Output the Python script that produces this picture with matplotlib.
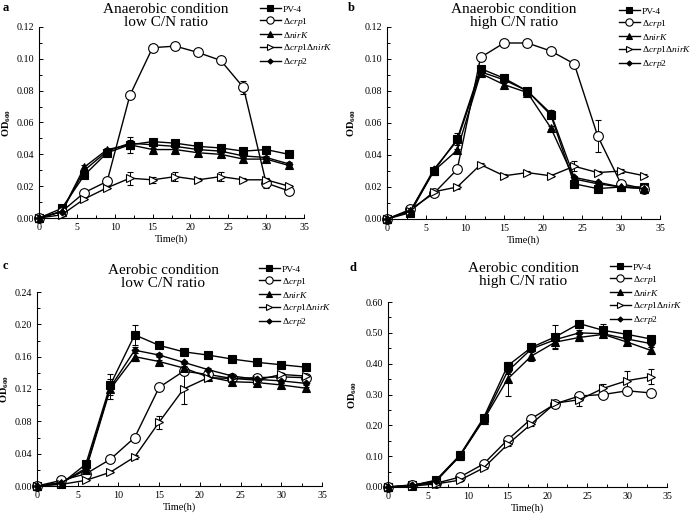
import matplotlib.pyplot as plt
from matplotlib.ticker import MultipleLocator, FormatStrFormatter
from matplotlib.lines import Line2D

plt.rcParams['font.family'] = ['Liberation Serif', 'DejaVu Serif']
plt.rcParams['mathtext.fontset'] = 'custom'
plt.rcParams['mathtext.rm'] = 'Liberation Serif'
plt.rcParams['mathtext.it'] = 'Liberation Serif:italic'
plt.rcParams['mathtext.bf'] = 'Liberation Serif:bold'

time_h = [0, 3, 6, 9, 12, 15, 18, 21, 24, 27, 30, 33]
strains = ['PV-4', r'$\Delta$$\it{crp1}$', r'$\Delta$$\it{nirK}$',
           r'$\Delta$$\it{crp1}$$\Delta$$\it{nirK}$', r'$\Delta$$\it{crp2}$']

# panel a: anaerobic, low C/N
a_pv4 = [0, 0.006, 0.027, 0.041, 0.046, 0.048, 0.047, 0.045, 0.044, 0.042, 0.043, 0.040]
a_crp1 = [0, 0.004, 0.016, 0.023, 0.077, 0.107, 0.108, 0.104, 0.099, 0.082, 0.022, 0.017]
a_nirk = [0, 0.004, 0.032, 0.043, 0.046, 0.043, 0.043, 0.041, 0.040, 0.037, 0.037, 0.033]
a_dbl = [0, 0.002, 0.012, 0.019, 0.025, 0.024, 0.026, 0.024, 0.026, 0.024, 0.024, 0.020]
a_crp2 = [0, 0.004, 0.030, 0.042, 0.047, 0.046, 0.045, 0.043, 0.042, 0.039, 0.038, 0.034]
a_err = [
    [0, 0.001, 0.001, 0.001, 0.001, 0.001, 0.001, 0.001, 0.001, 0.001, 0.001, 0.001],
    [0, 0.001, 0.001, 0.001, 0.001, 0.001, 0.001, 0.001, 0.001, 0.004, 0.003, 0.001],
    [0, 0.001, 0.001, 0.001, 0.005, 0.001, 0.001, 0.001, 0.001, 0.001, 0.001, 0.001],
    [0, 0.001, 0.001, 0.001, 0.004, 0.002, 0.003, 0.001, 0.003, 0.001, 0.001, 0.001],
    [0, 0.001, 0.001, 0.001, 0.002, 0.001, 0.001, 0.001, 0.001, 0.001, 0.001, 0.001],
]

# panel b: anaerobic, high C/N
b_pv4 = [0, 0.004, 0.030, 0.050, 0.094, 0.088, 0.080, 0.065, 0.022, 0.019, 0.020, 0.020]
b_crp1 = [0, 0.006, 0.016, 0.031, 0.101, 0.110, 0.110, 0.105, 0.097, 0.052, 0.022, 0.019]
b_nirk = [0, 0.005, 0.030, 0.043, 0.091, 0.084, 0.079, 0.057, 0.025, 0.022, 0.020, 0.019]
b_dbl = [0, 0.005, 0.017, 0.020, 0.034, 0.027, 0.029, 0.027, 0.033, 0.029, 0.030, 0.027]
b_crp2 = [0, 0.005, 0.031, 0.049, 0.092, 0.087, 0.080, 0.066, 0.026, 0.023, 0.020, 0.019]
b_err = [
    [0, 0.001, 0.001, 0.004, 0.001, 0.001, 0.001, 0.001, 0.001, 0.001, 0.001, 0.001],
    [0, 0.001, 0.001, 0.001, 0.001, 0.001, 0.001, 0.001, 0.001, 0.010, 0.001, 0.001],
    [0, 0.001, 0.001, 0.001, 0.001, 0.001, 0.001, 0.001, 0.001, 0.001, 0.001, 0.001],
    [0, 0.001, 0.001, 0.001, 0.001, 0.001, 0.001, 0.001, 0.003, 0.001, 0.001, 0.001],
    [0, 0.001, 0.001, 0.001, 0.001, 0.001, 0.001, 0.002, 0.001, 0.001, 0.001, 0.001],
]

# panel c: aerobic, low C/N
c_pv4 = [0, 0.003, 0.027, 0.125, 0.187, 0.174, 0.166, 0.162, 0.157, 0.153, 0.150, 0.147]
c_crp1 = [0, 0.007, 0.015, 0.033, 0.060, 0.122, 0.142, 0.138, 0.133, 0.134, 0.135, 0.134]
c_nirk = [0, 0.004, 0.020, 0.120, 0.160, 0.154, 0.146, 0.135, 0.129, 0.128, 0.125, 0.121]
c_dbl = [0, 0.002, 0.007, 0.017, 0.036, 0.079, 0.120, 0.134, 0.133, 0.131, 0.138, 0.136]
c_crp2 = [0, 0.004, 0.022, 0.122, 0.168, 0.162, 0.153, 0.144, 0.136, 0.132, 0.130, 0.127]
c_err = [
    [0, 0.001, 0.002, 0.013, 0.012, 0.002, 0.002, 0.002, 0.004, 0.002, 0.004, 0.002],
    [0, 0.001, 0.001, 0.001, 0.002, 0.002, 0.005, 0.002, 0.002, 0.002, 0.002, 0.002],
    [0, 0.001, 0.002, 0.012, 0.005, 0.002, 0.002, 0.002, 0.002, 0.002, 0.002, 0.002],
    [0, 0.001, 0.001, 0.001, 0.002, 0.008, 0.018, 0.002, 0.002, 0.002, 0.002, 0.002],
    [0, 0.001, 0.002, 0.004, 0.004, 0.002, 0.002, 0.002, 0.002, 0.002, 0.002, 0.002],
]

# panel d: aerobic, high C/N
d_pv4 = [0, 0.005, 0.022, 0.103, 0.225, 0.393, 0.453, 0.487, 0.530, 0.508, 0.495, 0.480]
d_crp1 = [0, 0.007, 0.012, 0.032, 0.075, 0.153, 0.222, 0.270, 0.295, 0.300, 0.312, 0.305]
d_nirk = [0, 0.004, 0.018, 0.100, 0.218, 0.350, 0.425, 0.470, 0.485, 0.495, 0.470, 0.443]
d_dbl = [0, 0.003, 0.010, 0.022, 0.062, 0.138, 0.205, 0.272, 0.283, 0.320, 0.345, 0.358]
d_crp2 = [0, 0.005, 0.020, 0.100, 0.220, 0.375, 0.448, 0.478, 0.500, 0.497, 0.480, 0.465]
d_err = [
    [0, 0.002, 0.004, 0.015, 0.010, 0.010, 0.010, 0.040, 0.010, 0.020, 0.010, 0.010],
    [0, 0.002, 0.002, 0.004, 0.005, 0.005, 0.005, 0.005, 0.005, 0.005, 0.005, 0.005],
    [0, 0.002, 0.004, 0.010, 0.015, 0.055, 0.015, 0.020, 0.010, 0.010, 0.010, 0.010],
    [0, 0.002, 0.002, 0.004, 0.005, 0.005, 0.008, 0.008, 0.020, 0.015, 0.030, 0.025],
    [0, 0.002, 0.004, 0.010, 0.010, 0.010, 0.010, 0.010, 0.010, 0.010, 0.010, 0.010],
]

# letter, title, series, errors, ymax, ystep, axes box (px), legend pos, title pos, letter pos, ylabel right edge
panels = [
    ('a', 'Anaerobic condition\nlow C/N ratio', [a_pv4, a_crp1, a_nirk, a_dbl, a_crp2], a_err,
     0.12, 0.02, (39, 27, 304, 218), (260, 5), (166, 3), (3, 2), 13),
    ('b', 'Anaerobic condition\nhigh C/N ratio', [b_pv4, b_crp1, b_nirk, b_dbl, b_crp2], b_err,
     0.12, 0.02, (387, 27, 660, 219), (619, 7), (514, 3), (348, 2), 358),
    ('c', 'Aerobic condition\nlow C/N ratio', [c_pv4, c_crp1, c_nirk, c_dbl, c_crp2], c_err,
     0.24, 0.04, (37, 292, 322, 486), (259, 265), (163, 264), (3, 260), 11),
    ('d', 'Aerobic condition\nhigh C/N ratio', [d_pv4, d_crp1, d_nirk, d_dbl, d_crp2], d_err,
     0.60, 0.10, (388, 302, 667, 487), (610, 263), (523, 262), (350, 262), 359),
]

styles = [
    dict(marker='s', ms=6, mfc='black', mec='black'),
    dict(marker='o', ms=7, mfc='white', mec='black'),
    dict(marker='^', ms=6, mfc='black', mec='black'),
    dict(marker='>', ms=6, mfc='white', mec='black'),
    dict(marker='D', ms=3.5, mfc='black', mec='black'),
]

W, H = 690, 517
fig = plt.figure(figsize=(W / 100, H / 100), dpi=100)

for letter, title, series, errs, ymax, ystep, box, legpos, titpos, letpos, ylx in panels:
    l, t, r, b = box
    ax = fig.add_axes([l / W, 1 - b / H, (r - l) / W, (b - t) / H])
    for k, (vals, e) in enumerate(zip(series, errs)):
        lines = ax.errorbar(time_h, vals, yerr=e, color='black', lw=1.0, elinewidth=0.7,
                            capsize=2, capthick=0.7, mew=0.8, **styles[k])
        lines[0].set_clip_on(False)
    ax.set_xlim(0, 35)
    ax.set_ylim(0, ymax)
    ax.xaxis.set_major_locator(MultipleLocator(5))
    ax.xaxis.set_minor_locator(MultipleLocator(2.5))
    ax.yaxis.set_major_locator(MultipleLocator(ystep))
    ax.yaxis.set_minor_locator(MultipleLocator(ystep / 2))
    ax.yaxis.set_major_formatter(FormatStrFormatter('%.2f'))
    ax.spines['top'].set_visible(False)
    ax.spines['right'].set_visible(False)
    ax.tick_params(which='both', direction='in', labelsize=7.2, width=0.7)
    ax.tick_params(which='major', length=3)
    ax.tick_params(which='minor', length=2)
    ax.set_xlabel('Time(h)', fontsize=7.5, labelpad=2)
    ax.set_ylabel(r'$\mathbf{OD_{600}}$', fontsize=7.5)
    ax.yaxis.set_label_coords((ylx - l) / (r - l), 0.5)
    fig.text(titpos[0] / W, 1 - titpos[1] / H, title, ha='center', va='top',
             fontsize=11, linespacing=1.0)
    fig.text(letpos[0] / W, 1 - letpos[1] / H, letter, fontsize=9, fontweight='bold', va='top')
    handles = [Line2D([], [], color='black', lw=1.0, mew=0.8,
                      **dict(st, ms=st['ms'] * 0.75)) for st in styles]
    fig.legend(handles, strains, loc='upper left',
               bbox_to_anchor=(legpos[0] / W, 1 - legpos[1] / H),
               frameon=False, fontsize=6.8, handlelength=2.2, handletextpad=0.2,
               labelspacing=0.22, borderaxespad=0, borderpad=0)

fig.savefig('out.png', dpi=100)
